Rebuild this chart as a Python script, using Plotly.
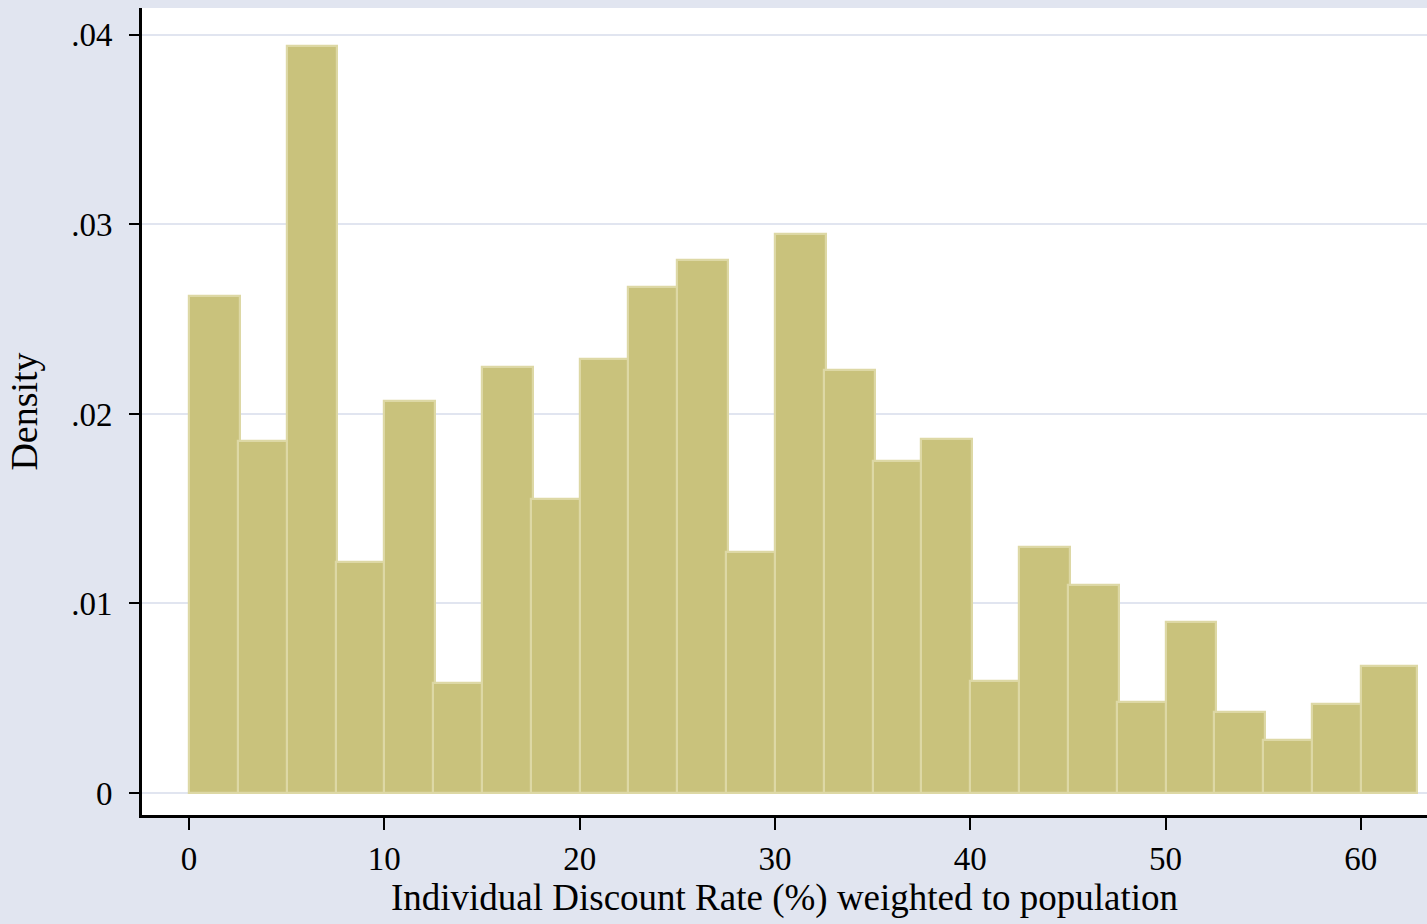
import plotly.graph_objects as go

bin_start = [0, 2.5, 5, 7.5, 10, 12.5, 15, 17.5, 20, 22.5, 25, 27.5, 30, 32.5,
             35, 37.5, 40, 42.5, 45, 47.5, 50, 52.5, 55, 57.5, 60]
density = [0.0262, 0.0186, 0.0394, 0.0122, 0.0207, 0.0058, 0.0225, 0.0155,
           0.0229, 0.0267, 0.0281, 0.0127, 0.0295, 0.0223, 0.0175, 0.0187,
           0.0059, 0.0130, 0.0110, 0.0048, 0.0090, 0.0043, 0.0028, 0.0047, 0.0067]
bar_widths = [2.6] * 24 + [2.87]

x_ticks = [0, 10, 20, 30, 40, 50, 60]
y_ticks = [0, 0.01, 0.02, 0.03, 0.04]
y_ticktext = ["0", ".01", ".02", ".03", ".04"]

font_family = "Liberation Serif, DejaVu Serif, serif"

fig = go.Figure()
fig.add_trace(go.Bar(
    x=bin_start,
    y=density,
    width=bar_widths,
    offset=0,
    marker=dict(color="#c9c27c", line=dict(color="#ddd8a5", width=2.2)),
    showlegend=False,
))

fig.update_layout(
    width=1427, height=924,
    paper_bgcolor="#e1e5f0",
    plot_bgcolor="#ffffff",
    margin=dict(l=142, r=0, t=8, b=109),
    bargap=0,
    font=dict(family=font_family, color="black", size=34),
    xaxis=dict(
        range=[-2.41, 63.39],
        tickvals=x_ticks,
        ticks="outside", ticklen=12, tickwidth=2, tickcolor="black",
        showline=True, linecolor="black", linewidth=3,
        showgrid=False, zeroline=False,
        tickfont=dict(size=33),
        title=dict(text="Individual Discount Rate (%) weighted to population",
                   font=dict(size=37), standoff=2),
    ),
    yaxis=dict(
        range=[-0.00116, 0.04142],
        tickvals=y_ticks, ticktext=y_ticktext,
        ticks="outside", ticklen=10, tickwidth=2, tickcolor="black",
        ticklabelstandoff=10,
        showline=True, linecolor="black", linewidth=3,
        showgrid=True, gridcolor="#e1e5f0", gridwidth=2,
        zeroline=False,
        tickfont=dict(size=33),
        title=dict(text="Density", font=dict(size=38), standoff=22),
    ),
)

fig.write_html("out.html", config={"displayModeBar": False},
               post_script="document.body.style.margin='0';document.body.style.padding='0';")
